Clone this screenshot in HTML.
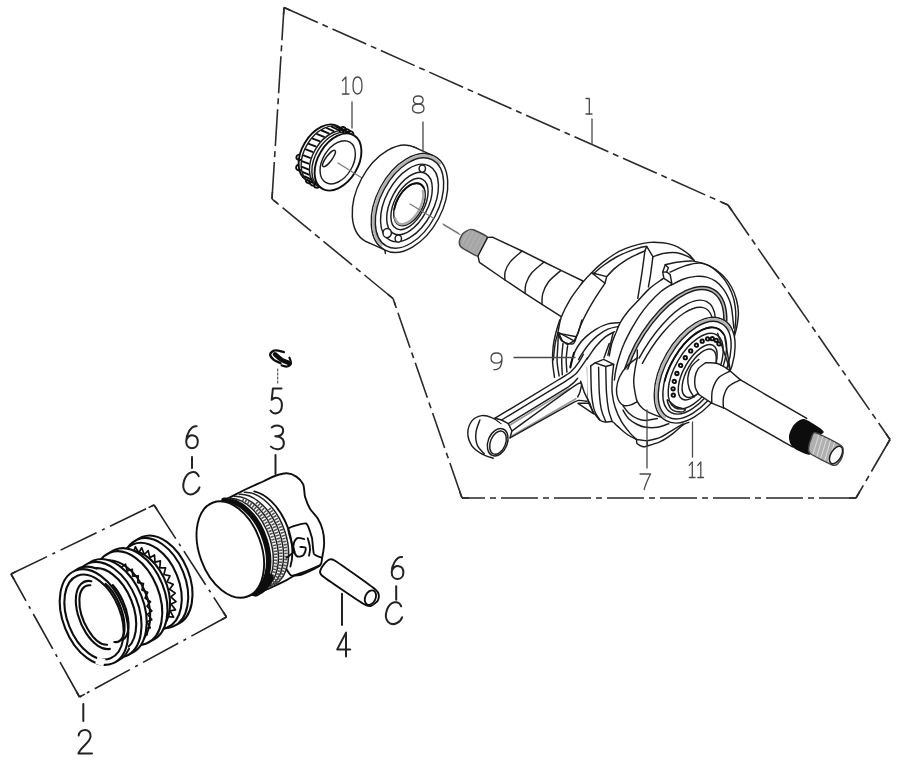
<!DOCTYPE html>
<html><head><meta charset="utf-8"><title>Crankshaft / Piston</title>
<style>
html,body{margin:0;padding:0;background:#fff;font-family:"Liberation Sans",sans-serif;}
svg{display:block}
path{fill:none;stroke-linecap:round;stroke-linejoin:round}
.l{stroke:#1e1e1e;stroke-width:1.45}
.lf{stroke:#1e1e1e;stroke-width:1.45;fill:#fff}
.m{stroke:#3a3a3a;stroke-width:0.8}
.mf{stroke:#3a3a3a;stroke-width:0.8;fill:#fff}
.k{stroke:#111;stroke-width:1.9}
.kf{stroke:#111;stroke-width:1.9;fill:#fff}
.d{stroke:#2a2a2a;stroke-width:1.6;stroke-dasharray:37 5 6 5;stroke-linecap:butt}
.d2{stroke:#222;stroke-width:1.6;stroke-dasharray:40 6 3 6;stroke-linecap:butt}
.t{stroke:#4a4a4a;stroke-width:1.3}
.b{stroke:#222;stroke-width:2}
.g{stroke:#777;stroke-width:1.2}
</style></head>
<body>
<svg width="900" height="768" viewBox="0 0 900 768">
<defs><filter id="bl" x="-5%" y="-5%" width="110%" height="110%"><feGaussianBlur stdDeviation="0.55"/></filter></defs>
<rect width="900" height="768" fill="#fff" stroke="none"/>
<g filter="url(#bl)">
<path class="d" d="M284.0,7.5L728.0,205.0" />
<path class="d" d="M728.0,205.0L890.0,439.5" />
<path class="d" d="M890.0,439.5L856.0,498.0" />
<path class="d" d="M856.0,498.0L462.0,498.0" />
<path class="d" d="M462.0,498.0L393.0,298.5" />
<path class="d" d="M393.0,298.5L272.0,199.0" />
<path class="d" d="M272.0,199.0L284.0,7.5" />
<path class="d" style="stroke-dasharray:none" d="M284.0,7.5L290.4,10.3"/>
<path class="d" style="stroke-dasharray:none" d="M284.0,7.5L283.6,14.5"/>
<path class="d" style="stroke-dasharray:none" d="M728.0,205.0L732.0,210.8"/>
<path class="d" style="stroke-dasharray:none" d="M728.0,205.0L721.6,202.2"/>
<path class="d" style="stroke-dasharray:none" d="M890.0,439.5L886.5,445.6"/>
<path class="d" style="stroke-dasharray:none" d="M890.0,439.5L886.0,433.7"/>
<path class="d" style="stroke-dasharray:none" d="M856.0,498.0L849.0,498.0"/>
<path class="d" style="stroke-dasharray:none" d="M856.0,498.0L859.5,491.9"/>
<path class="d" style="stroke-dasharray:none" d="M462.0,498.0L459.7,491.4"/>
<path class="d" style="stroke-dasharray:none" d="M462.0,498.0L469.0,498.0"/>
<path class="d" style="stroke-dasharray:none" d="M393.0,298.5L387.6,294.1"/>
<path class="d" style="stroke-dasharray:none" d="M393.0,298.5L395.3,305.1"/>
<path class="d" style="stroke-dasharray:none" d="M272.0,199.0L272.4,192.0"/>
<path class="d" style="stroke-dasharray:none" d="M272.0,199.0L277.4,203.4"/>
<path class="d2" d="M11.0,574.0L154.0,505.0" />
<path class="d2" d="M154.0,505.0L226.5,617.0" />
<path class="d2" d="M226.5,617.0L79.5,697.0" />
<path class="d2" d="M79.5,697.0L11.0,574.0" />
<path class="d2" style="stroke-dasharray:none" d="M11.0,574.0L16.4,571.4"/>
<path class="d2" style="stroke-dasharray:none" d="M11.0,574.0L13.9,579.2"/>
<path class="d2" style="stroke-dasharray:none" d="M154.0,505.0L157.3,510.0"/>
<path class="d2" style="stroke-dasharray:none" d="M154.0,505.0L148.6,507.6"/>
<path class="d2" style="stroke-dasharray:none" d="M226.5,617.0L221.2,619.9"/>
<path class="d2" style="stroke-dasharray:none" d="M226.5,617.0L223.2,612.0"/>
<path class="d2" style="stroke-dasharray:none" d="M79.5,697.0L76.6,691.8"/>
<path class="d2" style="stroke-dasharray:none" d="M79.5,697.0L84.8,694.1"/>
<path class="kf" d="M339.1,163.3A20.0,31.0 31.0 0 1 306.0,179.6A20.0,31.0 31.0 0 1 304.9,142.7A20.0,31.0 31.0 0 1 338.0,126.4A20.0,31.0 31.0 0 1 339.1,163.3Z" />
<path class="lf" d="M341.7,164.7A20.0,31.0 31.0 0 1 308.6,181.0A20.0,31.0 31.0 0 1 307.4,144.1A20.0,31.0 31.0 0 1 340.5,127.9A20.0,31.0 31.0 0 1 341.7,164.7Z" />
<path class="lf" d="M350.0,169.4A20.0,31.0 31.0 0 1 316.9,185.7A20.0,31.0 31.0 0 1 315.7,148.8A20.0,31.0 31.0 0 1 348.8,132.5A20.0,31.0 31.0 0 1 350.0,169.4Z" />
<path class="lf" d="M352.4,170.8A20.0,31.0 31.0 0 1 319.3,187.0A20.0,31.0 31.0 0 1 318.1,150.2A20.0,31.0 31.0 0 1 351.2,133.9A20.0,31.0 31.0 0 1 352.4,170.8Z" />
<path class="k" d="M307.3,179.9L312.9,182.8" />
<path class="k" d="M304.7,176.4L310.4,179.2" />
<path class="k" d="M302.9,172.1L308.8,174.7" />
<path class="k" d="M302.1,166.9L308.2,169.4" />
<path class="k" d="M302.4,161.3L308.6,163.7" />
<path class="k" d="M303.6,155.4L310.0,157.8" />
<path class="k" d="M305.9,149.4L312.4,151.9" />
<path class="k" d="M308.9,143.8L315.6,146.3" />
<path class="k" d="M312.7,138.6L319.5,141.2" />
<path class="k" d="M317.1,134.1L324.0,136.8" />
<path class="k" d="M321.8,130.5L328.7,133.4" />
<path class="k" d="M326.7,128.0L333.6,131.1" />
<path class="k" d="M331.6,126.7L338.4,130.0" />
<path class="k" d="M336.1,126.6L342.9,130.1" />
<path class="k" d="M340.3,127.8L347.0,131.5" />
<path class="k" d="M347.3,135.9A3.3,3.2 -20.0 0 1 347.5,132.4A3.3,3.2 -20.0 0 1 350.9,131.1A3.3,3.2 -20.0 0 1 353.4,133.7" />
<path class="k" d="M343.6,133.8A3.3,3.2 -20.0 0 1 343.8,130.3A3.3,3.2 -20.0 0 1 347.2,129.1A3.3,3.2 -20.0 0 1 349.7,131.6" />
<path class="k" d="M339.9,131.8A3.3,3.2 -20.0 0 1 340.1,128.2A3.3,3.2 -20.0 0 1 343.6,127.0A3.3,3.2 -20.0 0 1 346.0,129.5" />
<path class="k" d="M319.4,183.3A3.0,3.0 -20.0 0 1 319.2,186.6A3.0,3.0 -20.0 0 1 316.1,187.7A3.0,3.0 -20.0 0 1 313.8,185.3" />
<path class="k" d="M315.4,181.1A3.0,3.0 -20.0 0 1 315.2,184.3A3.0,3.0 -20.0 0 1 312.1,185.5A3.0,3.0 -20.0 0 1 309.8,183.1" />
<path class="k" d="M311.4,178.8A3.0,3.0 -20.0 0 1 311.2,182.1A3.0,3.0 -20.0 0 1 308.1,183.2A3.0,3.0 -20.0 0 1 305.8,180.8" />
<path class="k" d="M300.3,170.0A2.8,2.8 0.0 0 1 297.2,169.8A2.8,2.8 0.0 0 1 296.1,167.0A2.8,2.8 0.0 0 1 298.4,164.8" />
<path class="k" d="M300.6,159.8A2.8,2.8 0.0 0 1 297.5,159.6A2.8,2.8 0.0 0 1 296.4,156.7A2.8,2.8 0.0 0 1 298.7,154.6" />
<path class="kf" d="M355.1,172.3A20.0,31.0 31.0 0 1 322.0,188.6A20.0,31.0 31.0 0 1 320.9,151.7A20.0,31.0 31.0 0 1 354.0,135.4A20.0,31.0 31.0 0 1 355.1,172.3Z" />
<path class="lf" d="M350.6,170.0A15.0,23.5 31.0 0 1 325.6,182.4A15.0,23.5 31.0 0 1 324.8,154.6A15.0,23.5 31.0 0 1 349.8,142.2A15.0,23.5 31.0 0 1 350.6,170.0Z" />
<path class="l" d="M331.4,160.3A3.0,10.0 37.0 0 1 323.0,166.5A3.0,10.0 37.0 0 1 326.6,156.7A3.0,10.0 37.0 0 1 335.0,150.5A3.0,10.0 37.0 0 1 331.4,160.3Z" />
<path class="g" d="M338.0,163.0L362.0,178.0" />
<path class="lf" d="M419.6,210.0A33.0,53.0 28.0 0 1 365.6,241.3A33.0,53.0 28.0 0 1 361.4,179.0A33.0,53.0 28.0 0 1 415.4,147.7A33.0,53.0 28.0 0 1 419.6,210.0Z" />
<path class="lf" d="M366.9,241.9L385.9,250.4L433.1,155.6L414.1,147.1Z" style="stroke:none"/>
<path class="l" d="M366.9,241.9L385.9,250.4" />
<path class="l" d="M414.1,147.1L433.1,155.6" />
<path class="lf" d="M438.6,218.5A33.0,53.0 28.0 0 1 384.6,249.8A33.0,53.0 28.0 0 1 380.4,187.5A33.0,53.0 28.0 0 1 434.4,156.2A33.0,53.0 28.0 0 1 438.6,218.5Z" />
<path class="l" d="M381.3,244.7A30.8,50.8 28.0 0 1 376.2,203.4A30.8,50.8 28.0 0 1 406.1,161.7A30.8,50.8 28.0 0 1 439.6,163.4" style="stroke:#b4b4b4;stroke-width:3"/>
<path class="l" d="M434.9,216.5A28.8,48.8 28.0 0 1 386.6,246.1A28.8,48.8 28.0 0 1 384.1,189.5A28.8,48.8 28.0 0 1 432.4,159.9A28.8,48.8 28.0 0 1 434.9,216.5Z" />
<path class="l" d="M430.7,214.3A24.0,42.0 28.0 0 1 389.8,240.1A24.0,42.0 28.0 0 1 388.3,191.7A24.0,42.0 28.0 0 1 429.2,165.9A24.0,42.0 28.0 0 1 430.7,214.3Z" />
<path class="l" d="M425.8,212.2A18.5,34.0 28.0 0 1 393.5,233.5A18.5,34.0 28.0 0 1 393.2,194.8A18.5,34.0 28.0 0 1 425.5,173.5A18.5,34.0 28.0 0 1 425.8,212.2Z" />
<path class="l" d="M422.7,211.0A15.0,28.0 28.0 0 1 396.4,228.7A15.0,28.0 28.0 0 1 396.3,197.0A15.0,28.0 28.0 0 1 422.6,179.3A15.0,28.0 28.0 0 1 422.7,211.0Z" />
<path class="l" d="M421.0,210.6A13.0,23.0 28.0 0 1 398.7,224.8A13.0,23.0 28.0 0 1 398.0,198.4A13.0,23.0 28.0 0 1 420.3,184.2A13.0,23.0 28.0 0 1 421.0,210.6Z" />
<path class="k" d="M394.2,209.4A13.0,23.0 28.0 0 1 407.6,186.8A13.0,23.0 28.0 0 1 423.6,187.5" />
<path class="l" d="M422.8,190.8A11.5,21.5 28.0 0 1 412.7,218.7A11.5,21.5 28.0 0 1 395.2,218.2" style="stroke:#aaa;stroke-width:2.4"/>
<path class="lf" d="M425.5,168.6A3.2,3.6 0.0 0 1 422.3,172.2A3.2,3.6 0.0 0 1 419.1,168.6A3.2,3.6 0.0 0 1 422.3,165.0A3.2,3.6 0.0 0 1 425.5,168.6Z" />
<path class="lf" d="M391.4,233.0A4.2,4.6 0.0 0 1 387.2,237.6A4.2,4.6 0.0 0 1 383.0,233.0A4.2,4.6 0.0 0 1 387.2,228.4A4.2,4.6 0.0 0 1 391.4,233.0Z" />
<path class="lf" d="M401.5,238.5A3.2,3.6 0.0 0 1 398.3,242.1A3.2,3.6 0.0 0 1 395.1,238.5A3.2,3.6 0.0 0 1 398.3,234.9A3.2,3.6 0.0 0 1 401.5,238.5Z" />
<path class="l" d="M384.9,250.4L385.4,253.4" />
<path class="g" d="M410.0,204.0L434.0,218.5" />
<path class="g" d="M443.0,224.0L458.0,233.0" />
<path class="g" d="M444.0,225.0L460.0,234.4" />
<path class="l" d="M469.6,229.6C470.9,229.2 471.9,229.1 474.0,230.0C476.1,230.9 486.6,235.4 487.6,237.4C488.7,239.4 484.1,244.8 483.0,247.0C481.9,249.2 479.3,255.2 478.0,256.0C476.7,256.8 474.0,254.7 472.0,253.6C470.0,252.5 462.5,248.5 461.0,247.0C459.5,245.5 459.2,242.6 459.4,241.0C459.6,239.4 461.8,234.9 463.0,233.6C464.2,232.3 468.3,230.0 469.6,229.6Z" style="fill:#a6a6a6;stroke:#444"/>
<path class="m" d="M469.4,230.0L461.4,245.0" style="stroke:#bbb;stroke-width:0.7"/>
<path class="m" d="M473.4,231.8L465.4,246.8" style="stroke:#bbb;stroke-width:0.7"/>
<path class="m" d="M477.4,233.6L469.4,248.6" style="stroke:#bbb;stroke-width:0.7"/>
<path class="m" d="M481.4,235.4L473.4,250.4" style="stroke:#bbb;stroke-width:0.7"/>
<path class="m" d="M485.4,237.2L477.4,252.2" style="stroke:#bbb;stroke-width:0.7"/>
<path class="lf" d="M487.6,237.4L492.4,237.2L522.0,251.0L544.0,262.0L561.0,270.4L583.0,281.0L562.4,317.4L542.0,304.4L525.0,293.4L505.0,280.0L479.4,262.4L478.0,256.0Z" />
<path class="l" d="M522.0,251.0C520.1,252.8 513.2,258.2 510.4,261.6C507.6,265.0 506.1,268.5 505.2,271.6C504.3,274.7 505.0,278.6 505.0,280.0" />
<path class="l" d="M544.0,262.0C541.9,263.8 534.6,269.4 531.6,273.0C528.6,276.6 527.1,280.2 526.0,283.6C524.9,287.0 525.2,291.8 525.0,293.4" />
<path class="l" d="M561.0,270.4C558.9,272.3 551.4,278.1 548.4,282.0C545.4,285.9 543.9,289.9 542.8,293.6C541.7,297.3 542.1,302.6 542.0,304.4" />
<path class="lf" d="M553.3,359.8C553.6,357.1 554.4,348.2 555.1,343.8C555.9,339.3 556.7,337.6 557.8,333.1C558.8,328.7 559.3,322.7 561.3,317.1C563.4,311.5 566.7,305.1 570.2,299.3C573.8,293.6 579.1,286.9 582.7,282.4C586.2,278.0 588.3,275.9 591.6,272.7C594.8,269.4 598.4,266.0 602.2,262.9C606.1,259.8 610.8,256.4 614.7,254.0C618.5,251.6 621.5,250.2 625.3,248.7C629.2,247.1 633.6,245.6 637.8,244.6C641.9,243.5 646.1,242.7 650.2,242.4C654.4,242.1 658.8,242.4 662.7,242.8C666.5,243.2 670.1,244.0 673.3,245.1C676.6,246.2 679.6,247.9 682.2,249.6C684.9,251.2 687.3,253.1 689.3,254.9C691.3,256.7 693.5,259.6 694.3,260.6L700.0,301.1L664.4,359.8L575.6,365.1Z" style="stroke:none"/>
<path class="l" d="M553.3,359.8C553.6,357.1 554.4,348.2 555.1,343.8C555.9,339.3 556.7,337.6 557.8,333.1C558.8,328.7 559.3,322.7 561.3,317.1C563.4,311.5 566.7,305.1 570.2,299.3C573.8,293.6 579.1,286.9 582.7,282.4C586.2,278.0 588.3,275.9 591.6,272.7C594.8,269.4 598.4,266.0 602.2,262.9C606.1,259.8 610.8,256.4 614.7,254.0C618.5,251.6 621.5,250.2 625.3,248.7C629.2,247.1 633.6,245.6 637.8,244.6C641.9,243.5 646.1,242.7 650.2,242.4C654.4,242.1 658.8,242.4 662.7,242.8C666.5,243.2 670.1,244.0 673.3,245.1C676.6,246.2 679.6,247.9 682.2,249.6C684.9,251.2 687.3,253.1 689.3,254.9C691.3,256.7 693.5,259.6 694.3,260.6" />
<path class="l" d="M593.3,273.9C595.1,272.4 600.1,267.8 604.0,265.0C607.9,262.2 612.3,259.3 616.4,257.0C620.6,254.7 625.0,252.9 628.9,251.3C632.7,249.8 636.6,248.6 639.6,247.8C642.5,246.9 645.5,246.6 646.7,246.4" />
<path class="l" d="M606.7,276.6C608.0,275.2 611.6,271.1 614.7,268.4C617.8,265.7 621.8,262.8 625.3,260.6C628.9,258.3 632.7,256.5 636.0,254.9C639.3,253.3 643.4,251.5 644.9,250.8" />
<path class="l" d="M591.6,272.7L606.7,276.6L604.9,283.3L591.6,272.7" />
<path class="l" d="M604.9,283.3C603.0,286.3 597.0,294.9 593.3,301.1C589.6,307.3 585.5,314.7 582.7,320.7C579.9,326.6 577.5,334.0 576.4,336.7" />
<path class="l" d="M557.8,333.1L576.4,336.7" />
<path class="l" d="M557.8,333.1C558.5,334.4 559.7,339.3 562.2,341.1C564.7,342.9 570.5,344.5 572.9,343.8C575.3,343.0 575.9,337.9 576.4,336.7" />
<path class="l" d="M644.9,250.8C644.4,254.7 642.9,266.5 641.7,274.4C640.5,282.4 638.4,294.4 637.8,298.4" />
<path class="l" d="M652.9,256.7C652.5,259.6 651.3,269.4 650.6,274.4C649.8,279.5 648.8,284.8 648.4,286.9" />
<path class="l" d="M644.9,250.8L646.7,246.4L652.9,256.7" />
<path class="l" d="M652.9,256.7C654.8,256.1 660.4,253.9 664.4,253.3C668.4,252.6 673.0,252.3 676.9,252.8C680.7,253.3 684.7,255.0 687.6,256.3C690.5,257.6 693.2,259.9 694.3,260.6" />
<path class="l" d="M559.7,320.0C559.1,322.2 556.9,328.7 555.8,333.0C554.7,337.4 553.8,341.3 553.2,346.0C552.7,350.8 552.4,356.5 552.6,361.7C552.8,366.9 554.2,374.7 554.5,377.3" />
<path class="l" d="M558.4,333.0C558.3,335.2 558.0,341.3 557.8,346.0C557.6,350.8 556.9,356.7 557.1,361.7C557.4,366.7 558.8,373.6 559.1,376.0" />
<path class="l" d="M563.0,343.4C562.8,346.0 561.8,353.9 561.7,359.1C561.6,364.3 562.2,372.1 562.3,374.7" />
<path class="l" d="M567.6,346.0C567.3,348.2 566.4,354.7 566.2,359.1C566.1,363.4 566.8,369.9 566.9,372.1" />
<path class="l" d="M558.4,332.4L562.3,340.8L567.6,344.7L574.1,340.8Z" />
<path class="l" d="M574.1,340.8L578.2,333.0L581.9,320.0" />
<path class="lf" d="M609.3,355.9C611.5,353.5 610.6,347.5 611.5,344.5C612.4,341.4 614.5,336.1 615.8,333.0C617.0,330.0 619.2,324.4 620.8,321.6C622.4,318.7 625.7,314.3 628.0,311.5C630.3,308.8 635.1,303.8 638.0,300.8C640.8,297.7 646.1,291.6 649.4,288.6C652.8,285.7 660.9,281.8 663.0,278.6C665.2,275.4 663.3,266.9 665.3,264.7C667.4,262.5 674.9,262.5 678.7,262.0C682.4,261.5 689.4,260.6 693.4,261.1C697.5,261.6 705.2,263.8 709.1,265.6C712.9,267.4 719.1,272.0 722.1,274.7C725.0,277.5 729.3,283.2 731.2,286.5C733.1,289.8 735.5,296.0 736.4,299.5C737.4,303.0 738.3,309.0 738.4,312.5C738.4,316.0 737.6,322.4 737.1,325.5C736.5,328.6 740.9,323.0 734.5,335.9C728.0,348.8 695.7,410.5 688.8,422.3C682.0,434.2 685.2,423.3 683.1,424.8C681.0,426.2 676.1,431.1 673.1,433.3C670.0,435.6 663.6,440.0 660.2,441.7C656.8,443.3 649.6,445.3 647.3,445.9C645.0,446.6 644.3,446.9 643.0,446.7C641.7,446.4 638.1,444.8 637.3,443.8C636.4,442.8 637.9,440.7 636.6,439.5C635.2,438.3 629.8,436.3 627.3,434.5C624.7,432.7 619.2,427.6 617.2,425.9C615.2,424.2 613.7,422.1 612.2,421.6C610.7,421.1 607.4,422.2 605.8,422.0C604.2,421.8 601.8,421.6 600.0,420.2C598.3,418.8 594.6,414.6 592.9,411.6C591.2,408.5 588.0,403.2 587.2,397.3C586.3,391.3 585.4,371.8 586.4,367.2C587.5,362.6 592.0,364.4 595.0,362.9C598.1,361.4 607.2,358.4 609.3,355.9Z" style="stroke:none"/>
<path class="l" d="M609.3,355.9C609.7,354.0 610.4,348.3 611.5,344.5C612.6,340.6 614.2,336.8 615.8,333.0C617.3,329.2 618.8,325.1 620.8,321.6C622.8,318.0 625.1,315.0 628.0,311.5C630.8,308.1 634.4,304.6 638.0,300.8C641.6,297.0 645.3,292.3 649.4,288.6C653.6,284.9 660.8,280.3 663.0,278.6" />
<path class="l" d="M665.3,264.7C667.6,264.2 674.0,262.6 678.7,262.0C683.4,261.4 688.4,260.5 693.4,261.1C698.5,261.7 704.3,263.3 709.1,265.6C713.8,267.9 718.4,271.3 722.1,274.7C725.8,278.2 728.8,282.3 731.2,286.5C733.6,290.6 735.2,295.1 736.4,299.5C737.6,303.8 738.3,308.2 738.4,312.5C738.5,316.8 737.7,321.6 737.1,325.5C736.4,329.4 734.9,334.2 734.5,335.9" />
<path class="l" d="M670.0,272.1C672.6,271.1 680.6,267.1 685.6,265.6C690.6,264.1 695.4,262.6 699.9,263.0C704.5,263.5 708.8,265.4 713.0,268.2C717.1,271.1 721.5,275.8 724.7,279.9C727.8,284.1 730.1,288.6 731.8,293.0C733.6,297.3 734.5,301.6 735.1,306.0C735.8,310.3 735.9,314.5 735.8,319.0C735.6,323.6 734.7,330.9 734.5,333.3" />
<path class="l" d="M614.4,380.0C614.6,378.4 615.1,373.8 615.8,370.2C616.5,366.7 617.3,363.1 618.7,358.8C620.0,354.5 621.6,349.2 623.7,344.5C625.7,339.7 628.2,334.9 630.8,330.1C633.5,325.4 636.3,320.4 639.4,315.8C642.5,311.3 645.9,307.0 649.4,302.9C653.0,298.9 657.2,294.6 660.9,291.5C664.6,288.4 669.8,285.5 671.6,284.3" />
<path class="l" d="M671.3,285.2C673.3,284.2 678.9,280.8 683.0,279.3C687.1,277.8 692.1,276.8 696.0,276.4C699.9,276.1 703.2,276.3 706.5,277.1C709.7,277.9 712.8,279.3 715.6,281.2C718.4,283.2 721.2,286.2 723.4,289.1C725.6,291.9 727.3,295.4 728.6,298.2C729.9,301.0 730.5,303.2 731.2,306.0C731.8,308.8 732.1,311.4 732.5,315.1C732.9,318.8 733.6,326.0 733.8,328.1" />
<path class="l" d="M665.3,264.7L662.7,272.1L663.9,278.4L671.9,283.7L670.1,274.4L666.6,272.0L662.7,272.1" />
<path class="l" d="M666.6,272.0L668.4,267.7L665.3,264.7" />
<path class="l" d="M626.3,368.8A39.1,79.7 30.0 0 1 685.8,292.3A39.1,79.7 30.0 0 1 725.3,321.6" style="stroke:#b8b8b8;stroke-width:3"/>
<path class="l" d="M624.7,368.6A40.7,81.3 30.0 0 1 685.6,290.7A40.7,81.3 30.0 0 1 726.8,321.1" />
<path class="l" d="M627.8,369.0A37.5,78.1 30.0 0 1 685.9,293.8A37.5,78.1 30.0 0 1 723.8,322.1" />
<path class="l" d="M639.1,358.2A31.0,77.4 30.0 0 1 687.2,303.9A31.0,77.4 30.0 0 1 715.5,318.7" />
<path class="l" d="M642.4,363.3A27.8,72.8 30.0 0 1 684.2,313.0A27.8,72.8 30.0 0 1 712.2,317.8" />
<path class="l" d="M586.4,367.2C586.6,372.2 586.1,389.9 587.2,397.3C588.2,404.7 591.9,409.2 592.9,411.6" />
<path class="l" d="M590.7,365.8C590.9,370.3 590.9,385.6 591.5,393.0C592.1,400.4 592.9,405.6 594.3,410.1C595.8,414.7 599.1,418.5 600.0,420.2" />
<path class="l" d="M598.6,367.2C598.7,371.5 598.9,385.8 599.3,393.0C599.8,400.1 600.4,405.4 601.5,410.1C602.6,414.9 605.1,419.7 605.8,421.6" />
<path class="l" d="M605.8,367.2C605.9,371.5 606.0,385.8 606.5,393.0C607.0,400.1 607.7,405.4 608.6,410.1C609.6,414.9 611.6,419.7 612.2,421.6" />
<path class="l" d="M595.0,362.9L603.6,359.3L613.7,364.3L605.8,366.5Z" />
<path class="l" d="M590.7,365.8L595.0,362.9" />
<path class="l" d="M613.7,364.3C613.4,366.7 612.5,373.9 612.2,378.6C612.0,383.4 611.7,388.2 612.2,393.0C612.7,397.7 613.5,402.5 615.1,407.3C616.6,412.1 619.0,417.3 621.5,421.6C624.0,425.9 627.6,430.1 630.1,433.1C632.6,436.0 635.5,438.4 636.6,439.5" />
<path class="l" d="M592.9,411.6C594.1,413.0 597.9,418.4 600.0,420.2C602.2,421.9 603.7,421.8 605.8,422.0C607.8,422.3 610.3,421.0 612.2,421.6C614.1,422.2 614.7,423.8 617.2,425.9C619.7,428.0 624.0,432.2 627.3,434.5C630.5,436.8 635.0,438.7 636.6,439.5" />
<path class="l" d="M637.3,357.9C635.6,359.2 630.2,362.5 627.3,365.8C624.3,369.0 621.2,373.4 619.4,377.2C617.6,381.0 616.8,385.1 616.5,388.7C616.3,392.2 616.9,395.9 617.9,398.7C619.0,401.4 620.9,404.1 623.0,405.1C625.0,406.2 627.7,405.7 630.1,405.1C632.5,404.5 636.1,402.2 637.3,401.6" />
<path class="l" d="M637.3,357.9C636.9,359.7 635.7,364.7 635.1,368.6C634.5,372.6 633.7,377.4 633.7,381.5C633.7,385.6 634.5,389.6 635.1,393.0C635.7,396.3 636.0,398.9 637.3,401.6C638.6,404.2 640.6,406.7 643.0,408.7C645.4,410.7 648.7,412.3 651.6,413.7C654.5,415.1 658.8,416.5 660.2,417.0" />
<path class="l" d="M637.3,350.0L637.3,357.9" />
<path class="l" d="M623.0,405.8C623.9,407.0 626.3,410.9 628.7,413.0C631.1,415.2 634.4,417.5 637.3,418.7C640.1,420.0 642.5,420.5 645.9,420.5C649.2,420.4 655.4,418.8 657.3,418.5" />
<path class="l" d="M623.0,410.1C623.9,411.6 626.3,416.4 628.7,418.7C631.1,421.1 634.4,423.0 637.3,424.5C640.1,425.9 642.5,426.9 645.9,427.3C649.2,427.8 653.5,427.9 657.3,427.3C661.1,426.7 666.9,424.3 668.8,423.8" />
<path class="l" d="M636.6,439.5C636.7,440.2 636.2,442.6 637.3,443.8C638.4,445.0 641.3,446.3 643.0,446.7C644.7,447.0 644.4,446.8 647.3,445.9C650.2,445.1 655.9,443.8 660.2,441.7C664.5,439.6 669.3,436.2 673.1,433.3C676.9,430.5 680.5,426.6 683.1,424.8C685.7,422.9 687.9,422.7 688.8,422.3" />
<path class="l" d="M647.3,440.9C649.5,440.3 655.9,439.2 660.2,437.4C664.5,435.5 669.3,432.0 673.1,429.8C676.9,427.5 681.4,424.8 683.1,423.8" />
<path class="l" d="M636.6,439.5L647.3,440.9L647.3,445.9" />
<path class="lf" d="M493.2,458.2C491.3,457.5 485.2,455.9 481.7,453.8C478.1,451.7 474.2,449.2 471.9,445.8C469.6,442.4 467.8,437.5 467.8,433.3C467.8,429.2 469.6,423.9 471.9,420.9C474.2,417.9 478.3,416.1 481.7,415.6C485.1,415.1 489.1,416.5 492.3,417.9C495.6,419.2 499.7,422.6 501.2,423.6" />
<path class="l" d="M479.9,420.0C479.2,422.1 476.4,428.3 476.0,432.4C475.5,436.6 475.8,441.3 477.2,444.9C478.6,448.4 483.1,452.3 484.3,453.8" />
<path class="lf" d="M506.6,445.8A9.6,14.2 22.0 0 1 492.4,455.4A9.6,14.2 22.0 0 1 488.8,438.6A9.6,14.2 22.0 0 1 503.0,429.0A9.6,14.2 22.0 0 1 506.6,445.8Z" />
<path class="l" d="M505.0,445.4A7.6,12.2 22.0 0 1 493.4,453.9A7.6,12.2 22.0 0 1 491.0,439.8A7.6,12.2 22.0 0 1 502.6,431.3A7.6,12.2 22.0 0 1 505.0,445.4Z" />
<path class="lf" d="M495.0,418.2L558.1,380.0L570.6,372.0L579.4,361.3L586.6,357.8L587.4,400.4L579.4,400.4L572.3,403.1L510.1,437.8L508.3,428.9L501.6,423.6Z" style="stroke:none"/>
<path class="l" d="M495.0,418.2C501.3,414.4 550.6,384.6 558.1,380.0C565.7,375.4 568.4,373.9 570.6,372.0C572.7,370.1 578.2,363.1 579.4,361.3C580.7,359.6 583.0,354.9 583.4,354.2" />
<path class="l" d="M501.6,420.0C507.6,416.4 554.2,388.2 561.7,383.6C569.1,378.9 573.3,376.4 575.9,373.8C578.5,371.2 586.3,359.4 587.4,357.8" />
<path class="l" d="M508.3,423.6C514.4,419.9 561.8,391.1 568.8,386.6C575.7,382.0 576.8,379.1 577.7,378.2" />
<path class="l" d="M510.1,425.0L568.8,388.9" style="stroke:#999;stroke-width:1.6"/>
<path class="l" d="M511.9,431.0C518.5,426.3 570.8,387.9 577.7,383.9C584.5,379.9 580.3,389.4 580.3,390.7C580.3,392.0 577.9,396.3 577.7,396.9" />
<path class="l" d="M512.2,435.6L575.9,398.7" style="stroke:#999;stroke-width:1.6"/>
<path class="l" d="M510.1,437.8C516.3,434.3 565.4,406.8 572.3,403.1C579.3,399.4 578.0,400.6 579.4,400.4C580.9,400.3 586.2,401.2 586.9,401.3" />
<path class="l" d="M495.0,418.2L501.6,420.0L508.3,423.6L511.9,431.0L510.1,437.8" />
<path class="l" d="M619.6,322.6C617.7,322.8 611.8,322.8 607.9,323.9C604.0,325.0 599.9,326.9 596.2,329.1C592.5,331.3 588.8,334.1 585.8,336.9C582.7,339.7 580.1,342.8 578.0,346.0C575.8,349.3 574.1,353.0 572.8,356.5C571.5,359.9 570.6,365.1 570.2,366.9" />
<path class="k" d="M574.1,352.6C573.7,354.1 572.3,359.2 571.7,361.7C571.1,364.2 570.6,366.5 570.4,367.5" />
<path class="l" d="M618.3,326.5C616.6,326.9 611.4,327.6 607.9,329.1C604.4,330.6 600.8,333.0 597.5,335.6C594.2,338.2 591.0,341.7 588.4,344.7C585.8,347.8 583.5,351.4 581.9,353.9C580.2,356.3 579.2,358.7 578.6,359.7" />
<path class="l" d="M614.4,331.7C612.9,332.6 608.4,334.5 605.3,336.9C602.3,339.3 598.8,343.0 596.2,346.0C593.6,349.1 591.2,353.0 589.7,355.2C588.2,357.3 587.5,358.4 587.1,359.1" />
<path class="l" d="M578.0,403.3L589.7,403.3L593.6,413.8Z" />
<path class="l" d="M580.6,381.2L584.5,392.9L589.7,403.3" />
<path class="l" d="M609.2,343.4L604.0,357.8" />
<path class="l" d="M613.1,333.0L607.9,355.2" />
<path class="lf" d="M722.9,386.5A32.6,58.0 30.0 0 1 665.7,420.4A32.6,58.0 30.0 0 1 666.5,353.9A32.6,58.0 30.0 0 1 723.7,320.0A32.6,58.0 30.0 0 1 722.9,386.5Z" />
<path class="l" d="M664.6,417.0A30.4,55.8 30.0 0 1 660.4,372.4A30.4,55.8 30.0 0 1 695.8,325.3A30.4,55.8 30.0 0 1 729.9,330.0" style="stroke:#b8b8b8;stroke-width:3"/>
<path class="l" d="M719.3,384.4A28.4,53.8 30.0 0 1 667.8,416.8A28.4,53.8 30.0 0 1 670.1,356.0A28.4,53.8 30.0 0 1 721.6,323.6A28.4,53.8 30.0 0 1 719.3,384.4Z" />
<path class="l" d="M715.6,382.8A24.1,48.0 30.0 0 1 670.7,412.3A24.1,48.0 30.0 0 1 673.8,358.6A24.1,48.0 30.0 0 1 718.7,329.1A24.1,48.0 30.0 0 1 715.6,382.8Z" />
<path class="k" d="M664.6,381.0A24.1,48.0 30.0 0 1 692.8,335.8A24.1,48.0 30.0 0 1 723.3,333.7" />
<path class="l" d="M713.5,381.5A20.6,42.0 30.0 0 1 674.7,407.6A20.6,42.0 30.0 0 1 677.9,360.9A20.6,42.0 30.0 0 1 716.7,334.8A20.6,42.0 30.0 0 1 713.5,381.5Z" />
<path class="k" d="M675.0,395.2A1.7,1.7 0.0 0 1 673.3,396.9A1.7,1.7 0.0 0 1 671.6,395.2A1.7,1.7 0.0 0 1 673.3,393.5A1.7,1.7 0.0 0 1 675.0,395.2" />
<path class="k" d="M674.8,388.8A1.7,1.7 0.0 0 1 673.1,390.5A1.7,1.7 0.0 0 1 671.4,388.8A1.7,1.7 0.0 0 1 673.1,387.1A1.7,1.7 0.0 0 1 674.8,388.8" />
<path class="k" d="M676.0,381.4A1.7,1.7 0.0 0 1 674.3,383.1A1.7,1.7 0.0 0 1 672.6,381.4A1.7,1.7 0.0 0 1 674.3,379.7A1.7,1.7 0.0 0 1 676.0,381.4" />
<path class="k" d="M678.6,373.5A1.7,1.7 0.0 0 1 676.9,375.2A1.7,1.7 0.0 0 1 675.2,373.5A1.7,1.7 0.0 0 1 676.9,371.8A1.7,1.7 0.0 0 1 678.6,373.5" />
<path class="k" d="M682.3,365.4A1.7,1.7 0.0 0 1 680.6,367.1A1.7,1.7 0.0 0 1 678.9,365.4A1.7,1.7 0.0 0 1 680.6,363.7A1.7,1.7 0.0 0 1 682.3,365.4" />
<path class="k" d="M687.0,357.7A1.7,1.7 0.0 0 1 685.3,359.4A1.7,1.7 0.0 0 1 683.6,357.7A1.7,1.7 0.0 0 1 685.3,356.0A1.7,1.7 0.0 0 1 687.0,357.7" />
<path class="k" d="M692.4,350.9A1.7,1.7 0.0 0 1 690.7,352.6A1.7,1.7 0.0 0 1 689.0,350.9A1.7,1.7 0.0 0 1 690.7,349.2A1.7,1.7 0.0 0 1 692.4,350.9" />
<path class="k" d="M698.1,345.2A1.7,1.7 0.0 0 1 696.4,346.9A1.7,1.7 0.0 0 1 694.7,345.2A1.7,1.7 0.0 0 1 696.4,343.5A1.7,1.7 0.0 0 1 698.1,345.2" />
<path class="k" d="M703.9,341.2A1.7,1.7 0.0 0 1 702.2,342.9A1.7,1.7 0.0 0 1 700.5,341.2A1.7,1.7 0.0 0 1 702.2,339.5A1.7,1.7 0.0 0 1 703.9,341.2" />
<path class="k" d="M709.3,338.9A1.7,1.7 0.0 0 1 707.6,340.6A1.7,1.7 0.0 0 1 705.9,338.9A1.7,1.7 0.0 0 1 707.6,337.2A1.7,1.7 0.0 0 1 709.3,338.9" />
<path class="k" d="M714.0,338.7A1.7,1.7 0.0 0 1 712.3,340.4A1.7,1.7 0.0 0 1 710.6,338.7A1.7,1.7 0.0 0 1 712.3,337.0A1.7,1.7 0.0 0 1 714.0,338.7" />
<path class="k" d="M717.9,340.3A1.7,1.7 0.0 0 1 716.2,342.0A1.7,1.7 0.0 0 1 714.5,340.3A1.7,1.7 0.0 0 1 716.2,338.6A1.7,1.7 0.0 0 1 717.9,340.3" />
<path class="k" d="M720.6,343.9A1.7,1.7 0.0 0 1 718.9,345.6A1.7,1.7 0.0 0 1 717.2,343.9A1.7,1.7 0.0 0 1 718.9,342.2A1.7,1.7 0.0 0 1 720.6,343.9" />
<path class="l" d="M709.5,379.0A13.6,31.0 30.0 0 1 682.2,399.0A13.6,31.0 30.0 0 1 685.9,365.4A13.6,31.0 30.0 0 1 713.2,345.4A13.6,31.0 30.0 0 1 709.5,379.0Z" />
<path class="lf" d="M709.7,379.2A12.1,27.0 30.0 0 1 685.7,396.6A12.1,27.0 30.0 0 1 688.7,367.1A12.1,27.0 30.0 0 1 712.7,349.8A12.1,27.0 30.0 0 1 709.7,379.2Z" />
<path class="l" d="M730.2,370.2L717.7,333.4" />
<path class="l" d="M730.2,370.2L724.4,335.0" />
<path class="l" d="M667.3,399.7C668.0,399.2 672.6,404.9 675.5,406.5C678.5,408.1 684.2,408.3 685.1,409.3C686.0,410.2 683.3,412.0 681.0,412.0C678.7,412.0 673.7,411.3 671.4,409.3C669.2,407.2 666.6,400.1 667.3,399.7Z" />
<path class="lf" d="M705.6,362.8L716.5,363.2L730.2,371.0L740.4,379.9L806.7,418.4L822.7,431.8L840.4,445.1L843.0,452.0L838.0,466.0L832.4,464.7L810.2,454.0L792.4,446.9L723.4,407.9L711.7,403.1L698.8,394.5L695.3,387.4L694.9,377.8L698.1,368.9Z" style="stroke:none"/>
<path class="l" d="M705.6,362.8C704.3,363.8 699.9,366.4 698.1,368.9C696.3,371.5 695.4,374.8 694.9,377.8C694.5,380.9 694.7,384.6 695.3,387.4C696.0,390.2 698.2,393.3 698.8,394.5" />
<path class="l" d="M705.6,362.8C707.4,362.9 713.3,362.5 716.5,363.2C719.7,363.9 722.4,365.9 724.7,367.2C727.0,368.5 729.3,370.4 730.2,371.0" />
<path class="l" d="M698.8,394.5L711.7,403.1" />
<path class="l" d="M698.8,359.4C697.5,360.6 693.1,363.8 691.2,366.9C689.4,370.0 688.2,374.2 687.8,377.8C687.5,381.5 688.2,385.6 689.2,388.8C690.2,391.9 693.2,395.6 694.0,397.0" />
<path class="l" d="M730.2,371.0C728.3,372.1 721.5,374.6 718.6,377.8C715.6,381.0 713.6,385.9 712.4,390.1C711.3,394.3 711.9,400.9 711.7,403.1" />
<path class="l" d="M740.4,379.9C738.5,380.9 731.6,383.5 728.8,386.3C726.0,389.1 724.5,393.4 723.6,397.0C722.7,400.6 723.4,406.1 723.4,407.9" />
<path class="l" d="M730.2,371.0L740.4,379.9" />
<path class="l" d="M711.7,403.1L723.4,407.9" />
<path class="l" d="M740.9,380.2L806.7,418.4" />
<path class="l" d="M724.0,407.8L792.4,446.9" />
<path class="l" d="M804.9,419.9C808.3,421.0 821.1,429.4 822.7,431.4C824.2,433.5 818.0,433.9 816.4,435.3C814.9,436.8 812.1,440.0 811.1,442.4C810.2,444.9 811.6,453.3 809.3,454.0C807.1,454.7 796.8,449.4 794.2,447.4C791.6,445.4 790.1,441.2 789.8,438.9C789.4,436.6 790.6,432.1 791.6,430.0C792.5,427.9 795.1,424.2 796.9,422.9C798.7,421.5 801.5,418.7 804.9,419.9Z" style="fill:#0a0a0a;stroke:#0a0a0a"/>
<path class="l" d="M815.6,432.7C819.0,433.4 837.2,443.1 840.4,445.1C843.7,447.1 842.9,448.2 843.1,449.6C843.3,450.9 842.8,455.0 842.2,456.7C841.6,458.3 838.9,462.8 837.8,463.8C836.6,464.8 835.7,466.2 832.4,465.0C829.2,463.8 813.0,455.6 810.2,453.5C807.5,451.4 808.7,448.6 808.8,446.9C808.9,445.2 810.3,440.5 811.1,438.9C811.9,437.2 812.1,431.9 815.6,432.7Z" style="fill:#b0b0b0;stroke:#444"/>
<path class="m" d="M818.8,435.0L813.1,454.0" style="stroke:#e0e0e0;stroke-width:0.9"/>
<path class="m" d="M822.7,436.9L817.0,456.0" style="stroke:#e0e0e0;stroke-width:0.9"/>
<path class="m" d="M826.6,438.9L820.9,457.9" style="stroke:#e0e0e0;stroke-width:0.9"/>
<path class="m" d="M830.5,440.8L824.8,459.9" style="stroke:#e0e0e0;stroke-width:0.9"/>
<path class="m" d="M834.4,442.8L828.7,461.8" style="stroke:#e0e0e0;stroke-width:0.9"/>
<path class="lf" d="M840.5,457.6A5.2,9.6 30.0 0 1 831.2,463.3A5.2,9.6 30.0 0 1 831.5,452.4A5.2,9.6 30.0 0 1 840.8,446.7A5.2,9.6 30.0 0 1 840.5,457.6Z" />
<path class="kf" d="M221.1,502.0C223.9,500.6 236.1,494.0 241.7,491.3C247.3,488.5 258.7,483.5 263.1,481.5C267.6,479.5 271.7,477.1 274.9,476.0C278.0,474.9 283.7,473.2 286.6,473.3C289.4,473.4 294.1,475.1 296.3,476.6C298.6,478.1 302.0,481.7 303.2,484.4C304.4,487.2 304.2,493.9 305.1,497.1C306.1,500.4 308.3,506.0 310.0,508.8C311.7,511.7 316.1,515.7 317.8,518.6C319.5,521.5 321.9,526.9 322.7,530.3C323.6,533.7 324.2,540.4 324.1,544.0C324.0,547.6 322.7,554.8 322.1,557.7C321.6,560.5 322.4,563.3 319.8,565.5C317.1,567.7 305.6,572.9 302.2,574.3C298.8,575.6 296.5,574.9 294.4,575.6C292.3,576.4 290.7,578.1 286.6,580.1C282.4,582.2 268.6,588.7 263.1,590.9C257.7,593.1 247.9,596.0 245.6,596.7Z" />
<path class="l" d="M223.9,500.3A30.5,49.0 -20.0 0 1 265.2,540.3A30.5,49.0 -20.0 0 1 253.2,593.1" style="stroke:#111;stroke-width:5.5"/>
<path class="l" d="M229.1,498.4A30.5,49.0 -20.0 0 1 269.6,537.6A30.5,49.0 -20.0 0 1 259.3,590.6" style="stroke:#222;stroke-width:1.5"/>
<path class="l" d="M234.2,496.4A30.5,49.0 -20.0 0 1 274.7,535.6A30.5,49.0 -20.0 0 1 264.4,588.5" style="stroke:#222;stroke-width:1.5"/>
<path class="l" d="M239.3,494.4A30.5,49.0 -20.0 0 1 279.8,533.5A30.5,49.0 -20.0 0 1 269.5,586.5" style="stroke:#222;stroke-width:1.5"/>
<path class="l" d="M244.4,492.3A30.5,49.0 -20.0 0 1 284.9,531.5A30.5,49.0 -20.0 0 1 274.6,584.5" style="stroke:#222;stroke-width:1.5"/>
<path class="l" d="M242.4,499.5A30.5,49.0 -20.0 0 1 274.1,544.0A30.5,49.0 -20.0 0 1 262.2,589.3" style="stroke:#555;stroke-width:3.4;stroke-dasharray:1.6 1.4;stroke-linecap:butt"/>
<path class="l" d="M256.1,502.6A30.5,49.0 -20.0 0 1 280.3,548.1A30.5,49.0 -20.0 0 1 267.4,587.3" style="stroke:#555;stroke-width:3.4;stroke-dasharray:1.6 1.4;stroke-linecap:butt"/>
<path class="l" d="M269.2,508.5A30.5,49.0 -20.0 0 1 286.0,552.2A30.5,49.0 -20.0 0 1 272.5,585.2" style="stroke:#555;stroke-width:3.4;stroke-dasharray:1.6 1.4;stroke-linecap:butt"/>
<path class="k" d="M254.3,491.4A30.5,49.0 -20.0 0 1 284.8,520.5A30.5,49.0 -20.0 0 1 290.4,566.6" />
<path class="l" d="M269.3,577.8A33.0,49.0 -20.0 0 1 255.6,592.2" style="stroke:#111;stroke-width:9"/>
<path class="kf" d="M259.4,538.9A31.0,50.0 -20.0 0 1 247.4,596.5A31.0,50.0 -20.0 0 1 201.2,560.1A31.0,50.0 -20.0 0 1 213.2,502.5A31.0,50.0 -20.0 0 1 259.4,538.9Z" />
<path class="k" d="M294.4,551.8C294.2,551.0 292.0,544.0 291.5,542.0C291.0,540.1 287.3,529.9 288.5,528.4C289.8,526.8 304.2,522.7 306.1,523.5C308.1,524.3 311.3,535.6 312.0,538.1C312.6,540.7 313.1,552.1 313.9,553.8C314.7,555.4 321.1,557.3 321.7,557.7" />
<path class="k" d="M286.6,569.4C287.1,570.0 289.9,575.3 291.5,575.6C293.0,576.0 299.4,573.7 302.2,572.7C305.0,571.7 318.0,566.2 319.8,565.5" />
<path class="k" d="M304.2,539.1C303.0,539.0 299.1,537.0 297.3,538.1C295.5,539.3 293.6,543.0 293.4,546.0C293.3,548.9 294.7,554.2 296.3,555.7C298.0,557.3 301.6,556.6 303.2,555.3C304.7,554.0 306.2,549.3 305.7,547.9C305.2,546.5 301.2,547.1 300.3,546.9" />
<path class="k" d="M307.7,538.1C308.1,539.8 309.8,545.0 310.0,547.9C310.3,550.8 309.2,554.4 309.0,555.7" />
<path class="k" d="M286.6,557.7L294.4,551.8" />
<path class="kf" d="M326.7,561.4C328.0,560.6 329.3,557.3 334.2,560.2C339.1,563.1 371.7,586.2 376.1,590.1C380.5,594.1 378.7,598.1 378.2,599.7C377.8,601.3 373.0,605.2 371.6,605.7C370.2,606.1 369.1,607.2 364.1,604.2C359.2,601.2 326.5,579.3 322.2,575.7C317.9,572.2 320.9,569.7 321.3,568.3C321.8,566.8 325.4,562.2 326.7,561.4Z" />
<path class="kf" d="M375.1,599.8A5.2,7.6 25.0 0 1 367.2,604.5A5.2,7.6 25.0 0 1 365.7,595.4A5.2,7.6 25.0 0 1 373.6,590.7A5.2,7.6 25.0 0 1 375.1,599.8Z" />
<path class="k" d="M283.9,352.1C282.4,351.8 277.3,350.0 275.0,350.4C272.8,350.7 270.4,352.8 270.2,354.3C270.0,355.9 272.2,358.4 273.9,359.9C275.7,361.3 279.5,362.6 280.6,363.2" style="stroke-width:2.4"/>
<path class="k" d="M275.0,354.3C276.2,355.3 279.3,358.4 281.7,359.9C284.1,361.3 288.1,362.6 289.4,363.2" style="stroke:#111;stroke-width:4.5"/>
<path class="k" d="M289.4,357.7C289.7,358.6 291.3,361.7 291.0,363.2C290.6,364.7 288.8,366.1 287.2,366.5C285.7,366.9 282.6,365.6 281.7,365.4" style="stroke-width:2.2"/>
<path class="l" d="M277.7,369.0L277.7,385.0" style="stroke:#555;stroke-width:1.2;stroke-dasharray:2 2"/>
<path class="b" d="M402.1,557.0 C396.3,556.3 391.7,565.5 391.7,572.4 C391.7,581.1 403.4,581.1 403.4,572.4 C403.4,565.0 395.0,563.9 392.0,570.5" />
<path class="b" d="M396.2,586.2L396.2,599.7" />
<path class="b" d="M401.2,606.3 C398.7,600.0 390.2,600.7 386.8,610.4 C383.4,620.7 390.2,626.5 397.0,623.0 C399.5,621.9 401.2,619.6 402.1,617.3" />
<path class="b" d="M346.0,656.6 L346.0,632.6 L337.2,649.4 L350.2,649.4" />
<path class="b" d="M342.0,593.7L342.0,625.1" />
<path class="kf" d="M187.4,569.4A30.0,47.0 -22.0 0 1 177.2,624.2A30.0,47.0 -22.0 0 1 131.8,591.9A30.0,47.0 -22.0 0 1 142.0,537.0A30.0,47.0 -22.0 0 1 187.4,569.4Z" style="stroke-width:2.1"/>
<path class="kf" d="M183.1,571.8A30.0,47.0 -22.0 0 1 172.9,626.6A30.0,47.0 -22.0 0 1 127.4,594.3A30.0,47.0 -22.0 0 1 137.6,539.5A30.0,47.0 -22.0 0 1 183.1,571.8Z" style="stroke-width:2.1"/>
<path class="kf" d="M176.9,575.1A29.0,45.0 -22.0 0 1 166.9,627.7A29.0,45.0 -22.0 0 1 123.1,596.8A29.0,45.0 -22.0 0 1 133.1,544.2A29.0,45.0 -22.0 0 1 176.9,575.1Z" style="stroke-width:2.1"/>
<path class="k" d="M133.5,552.5L135.3,546.8L138.8,552.7L141.7,547.8L144.3,554.5L148.2,550.6L149.8,557.7L154.5,555.0L155.0,562.2L160.4,560.9L159.8,567.9L165.6,567.9L163.9,574.5L170.0,575.8L167.2,581.7L173.2,584.4L169.6,589.2L175.3,593.1L170.9,596.8L176.0,601.7L171.0,604.1L175.5,609.8L170.1,610.8L173.6,617.1L168.1,616.6" style="stroke-width:1.7"/>
<path class="k" d="M123.4,551.9A28.0,43.0 -22.0 0 1 164.0,577.9A28.0,43.0 -22.0 0 1 159.9,629.2" style="stroke-width:2.1"/>
<path class="kf" d="M162.1,583.6A31.0,49.0 -22.0 0 1 151.7,640.6A31.0,49.0 -22.0 0 1 104.6,606.8A31.0,49.0 -22.0 0 1 115.0,549.7A31.0,49.0 -22.0 0 1 162.1,583.6Z" style="stroke-width:2.1"/>
<path class="kf" d="M156.9,586.5A31.0,49.0 -22.0 0 1 146.5,643.5A31.0,49.0 -22.0 0 1 99.4,609.7A31.0,49.0 -22.0 0 1 109.8,552.7A31.0,49.0 -22.0 0 1 156.9,586.5Z" style="stroke-width:2.1"/>
<path class="k" d="M121.4,567.2L125.5,564.1L127.2,570.9L132.2,569.2L132.8,576.2L138.3,575.8L137.7,582.6L143.5,583.6L141.9,590.0L147.7,592.4L145.0,598.0L150.5,601.7L146.9,606.2L151.9,610.9L147.6,614.2L151.8,619.8L146.9,621.7L150.2,627.9L145.0,628.2L147.2,634.7L142.0,633.6" style="stroke-width:1.7"/>
<path class="k" d="M104.1,560.9A29.0,45.0 -22.0 0 1 144.6,590.7A29.0,45.0 -22.0 0 1 139.8,642.6" style="stroke-width:2.1"/>
<path class="kf" d="M141.1,595.2A31.0,50.0 -22.0 0 1 131.1,653.2A31.0,50.0 -22.0 0 1 83.6,618.4A31.0,50.0 -22.0 0 1 93.6,560.5A31.0,50.0 -22.0 0 1 141.1,595.2Z" style="stroke-width:2.1"/>
<path class="kf" d="M135.9,598.1A31.0,50.0 -22.0 0 1 125.9,656.1A31.0,50.0 -22.0 0 1 78.4,621.3A31.0,50.0 -22.0 0 1 88.4,563.4A31.0,50.0 -22.0 0 1 135.9,598.1Z" style="stroke-width:2.1"/>
<path class="kf" d="M131.2,600.0A26.0,43.5 -22.0 0 1 123.4,650.1A26.0,43.5 -22.0 0 1 83.0,619.5A26.0,43.5 -22.0 0 1 90.8,569.4A26.0,43.5 -22.0 0 1 131.2,600.0Z" style="stroke-width:2.1"/>
<path class="kf" d="M129.0,648.9A31.0,50.0 -22.0 0 1 88.4,653.3A31.0,50.0 -22.0 0 1 64.3,593.7A31.0,50.0 -22.0 0 1 96.5,568.6" style="stroke-width:2.1"/>
<path class="kf" d="M122.7,605.4A31.0,50.0 -22.0 0 1 112.7,663.4A31.0,50.0 -22.0 0 1 65.3,628.6A31.0,50.0 -22.0 0 1 75.3,570.6A31.0,50.0 -22.0 0 1 122.7,605.4Z" style="stroke-width:2.1"/>
<path class="kf" d="M118.5,607.1A26.4,44.4 -22.0 0 1 110.6,658.2A26.4,44.4 -22.0 0 1 69.5,626.9A26.4,44.4 -22.0 0 1 77.4,575.8A26.4,44.4 -22.0 0 1 118.5,607.1Z" style="stroke-width:2.1"/>
<path class="l" d="M96.4,660.1L104.4,663.1" style="stroke:#fff;stroke-width:7.5;stroke-linecap:butt"/>
<path class="k" d="M109.9,648.9A19.0,36.0 -22.0 0 1 86.1,633.1A19.0,36.0 -22.0 0 1 76.0,596.4A19.0,36.0 -22.0 0 1 91.4,581.2" style="stroke-width:2.1"/>
<path class="k" d="M107.1,644.8A15.5,31.5 -22.0 0 1 88.1,629.7A15.5,31.5 -22.0 0 1 79.4,599.2A15.5,31.5 -22.0 0 1 90.3,585.3" style="stroke-width:2.1"/>
<path class="k" d="M105.5,583.9A15.0,33.0 -22.0 0 1 124.0,620.1A15.0,33.0 -22.0 0 1 114.3,642.0" style="stroke-width:2.1"/>
<path class="k" d="M112.7,585.0A15.0,33.0 -22.0 0 1 128.0,618.1A15.0,33.0 -22.0 0 1 121.1,640.0" style="stroke-width:2.1"/>
<path class="t" d="M342.4,80.7 L345.9,77.0 L345.9,94.0" />
<path class="t" d="M342.4,94.0 L349.0,94.0" />
<path class="t" d="M357.5,77.0 C354.4,77.0 353.0,81.2 353.0,85.5 C353.0,89.8 354.4,94.0 357.5,94.0 C360.6,94.0 362.0,89.8 362.0,85.5 C362.0,81.2 360.6,77.0 357.5,77.0 Z" />
<path class="t" d="M352.0,102.0L352.0,128.0" />
<path class="t" d="M418.2,96.0 C414.8,96.0 413.4,97.7 413.4,100.1 C413.4,102.5 415.4,104.0 418.2,104.0 C421.1,104.0 423.1,102.5 423.1,100.1 C423.1,97.7 421.7,96.0 418.2,96.0 Z" />
<path class="t" d="M418.2,104.0 C414.2,104.0 412.5,106.2 412.5,108.6 C412.5,111.3 414.8,113.0 418.2,113.0 C421.7,113.0 424.0,111.3 424.0,108.6 C424.0,106.2 422.3,104.0 418.2,104.0 Z" />
<path class="t" d="M423.0,122.0L423.0,152.0" />
<path class="t" d="M586.0,98.5 L589.3,98.5 L589.3,114.0" />
<path class="t" d="M586.0,114.0 L592.0,114.0" />
<path class="t" d="M592.0,119.0L592.0,144.0" />
<path class="t" d="M502.0,358.1 C502.0,354.7 499.8,353.0 496.5,353.0 C493.2,353.0 491.0,355.0 491.0,358.1 C491.0,361.5 493.2,363.2 496.5,363.2 C499.8,363.2 502.0,361.2 502.0,358.1 C502.0,364.9 500.4,370.0 493.8,369.7" />
<path class="t" d="M514.0,357.5L575.0,357.5" />
<path class="t" d="M640.0,474.0 L650.5,474.0 C647.4,480.2 645.2,484.9 644.2,489.5" />
<path class="t" d="M647.0,410.0L647.0,468.0" />
<path class="t" d="M689.3,465.4 L692.3,462.0 L692.3,477.5" />
<path class="t" d="M689.3,477.5 L695.0,477.5" />
<path class="t" d="M697.8,465.4 L700.8,462.0 L700.8,477.5" />
<path class="t" d="M697.8,477.5 L703.5,477.5" />
<path class="t" d="M692.5,422.0L692.5,457.0" />
<path class="b" d="M281.5,388.5 L272.9,388.5 L271.7,399.8 C275.3,396.0 282.1,397.2 281.9,405.5 C281.7,414.0 274.1,415.5 270.5,410.5" />
<path class="b" d="M271.7,427.4 C275.1,424.3 283.8,425.0 283.1,431.3 C282.5,436.1 277.8,436.3 275.3,436.3 C280.4,436.3 284.5,438.7 283.8,444.2 C283.1,450.2 275.1,450.7 271.0,446.6" />
<path class="b" d="M275.5,455.0L275.5,474.0" />
<path class="b" d="M196.6,426.2 C190.7,425.5 186.2,434.7 186.2,441.6 C186.2,450.3 197.8,450.3 197.8,441.6 C197.8,434.2 189.4,433.1 186.4,439.8" />
<path class="b" d="M192.0,457.0L192.0,468.0" />
<path class="b" d="M198.7,476.2 C196.1,469.8 187.6,470.5 184.2,480.4 C180.8,491.0 187.6,496.9 194.4,493.3 C196.9,492.1 198.7,489.8 199.5,487.4" />
<path class="b" d="M78.7,735.5 C79.4,728.3 90.9,727.6 90.6,736.2 C90.3,742.7 80.8,746.8 78.4,753.5 L92.0,753.5" />
<path class="b" d="M83.3,704.0L83.3,721.0" />
</g>
</svg>
</body></html>
